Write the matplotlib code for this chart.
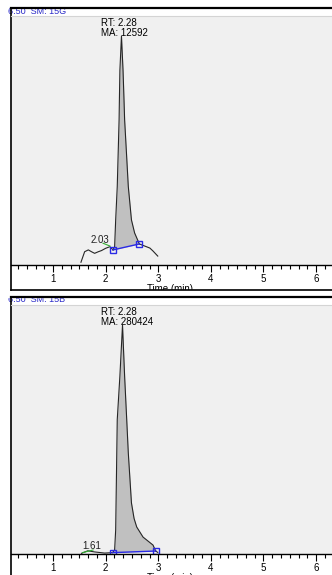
import matplotlib.pyplot as plt
from matplotlib.patches import Rectangle
from matplotlib.lines import Line2D
import numpy as np

plt.rcParams['font.family'] = ['Liberation Sans', 'DejaVu Sans']

W, H = 332, 575
fig = plt.figure(figsize=(W / 100, H / 100), dpi=100)


def fx(px):
    return px / W


def fy(py):
    return 1 - py / H


# ---- data ----
# panel 1 (SM: 15G)
p1_pre_t = [1.53, 1.60, 1.67, 1.73, 1.79, 1.86, 1.92, 2.00, 2.08, 2.14]
p1_pre_i = [1.2, 5.8, 6.6, 5.8, 5.1, 5.8, 6.3, 7.3, 8.0, 6.6]
p1_peak_t = [2.14, 2.17, 2.19, 2.22, 2.255, 2.26, 2.27, 2.30, 2.33, 2.35,
             2.36, 2.395, 2.43, 2.49, 2.55, 2.64]
p1_peak_i = [6.6, 8.0, 19.7, 34.3, 63.5, 71, 85, 100, 85, 71,
             63.5, 49, 34.3, 19.7, 14, 9.2]
p1_post_t = [2.64, 2.74, 2.84, 2.90, 2.99]
p1_post_i = [9.2, 8.3, 7.4, 6.1, 3.9]

# panel 2 (SM: 15B)
p2_pre_t = [1.54, 1.66, 1.79, 1.98, 2.13]
p2_pre_i = [0.3, 1.4, 0.9, 0.4, 0.6]
p2_peak_t = [2.13, 2.17, 2.19, 2.22, 2.27, 2.32, 2.36, 2.40, 2.43, 2.49,
             2.54, 2.59, 2.71, 2.90, 2.95]
p2_peak_i = [0.6, 1.8, 10.5, 58.7, 77.7, 100, 77.7, 58.7, 44.2, 22.3,
             15.5, 11.8, 7.4, 3.9, 1.3]
p2_post_t = [2.95, 2.99]
p2_post_i = [1.3, 0.7]

panels = [
    dict(header='6.50  SM: 15G', rt='RT: 2.28', ma='MA: 12592',
         pre=(p1_pre_t, p1_pre_i), peak=(p1_peak_t, p1_peak_i),
         post=(p1_post_t, p1_post_i),
         lbl='2.03', lbl_xy=(1.90, 11.0), con=([1.95, 2.08], [9.5, 8.3])),
    dict(header='6.50  SM: 15B', rt='RT: 2.28', ma='MA: 280424',
         pre=(p2_pre_t, p2_pre_i), peak=(p2_peak_t, p2_peak_i),
         post=(p2_post_t, p2_post_i),
         lbl='1.61', lbl_xy=(1.73, 3.6), con=([1.56, 1.76], [0.6, 1.75])),
]

x_lo, x_hi = 0.2, 6.5
y_top = 109
line_c = '#262626'
blue = '#2a2ae6'

for k, p in enumerate(panels):
    o = 289 * k
    ax_left, ax_right = 11, 11 + (x_hi - x_lo) * 52.6
    ax_top, ax_bot = o + 15.5, o + 265
    ax = fig.add_axes([fx(ax_left), fy(ax_bot), (ax_right - ax_left) / W,
                       (ax_bot - ax_top) / H])
    ax.set_facecolor('#f0f0f0')
    ax.set_xlim(x_lo, x_hi)
    ax.set_ylim(0, y_top)
    for s in ['top', 'left', 'right']:
        ax.spines[s].set_visible(False)
    ax.spines['bottom'].set_linewidth(1.0)
    ax.set_yticks([])
    ax.set_xticks([1, 2, 3, 4, 5, 6])
    ax.set_xticks(np.arange(2, 39) / 6.0, minor=True)
    ax.tick_params(axis='x', which='major', direction='out', length=5,
                   width=0.8, labelsize=7, pad=1.2)
    ax.tick_params(axis='x', which='minor', direction='out', length=3,
                   width=0.8)

    pt, pi = p['peak']
    base_t = [pt[0], pt[-1]]
    base_i = [pi[0], pi[-1]]
    ax.fill_between(pt, pi, np.interp(pt, base_t, base_i),
                    color='#c0c0c0', lw=0)
    ax.plot(*p['pre'], color=line_c, lw=0.8)
    ax.plot(pt, pi, color=line_c, lw=0.8)
    ax.plot(*p['post'], color=line_c, lw=0.8)
    ax.plot(base_t, base_i, color=blue, lw=1.0, marker='s', ms=4.2,
            mfc='none', mec=blue, mew=1.0)
    ax.plot(*p['con'], color='#30b030', lw=0.8)
    ax.text(p['lbl_xy'][0], p['lbl_xy'][1], p['lbl'], fontsize=7,
            ha='center', va='center', color='#202020')
    ax.text(1.92, 105.8, p['rt'], fontsize=7, ha='left', va='center')
    ax.text(1.92, 101.4, p['ma'], fontsize=7, ha='left', va='center')

    # axis title, lower half hidden by the frame
    fig.text(fx(170), fy(o + 284), 'Time (min)', fontsize=7,
             ha='center', va='top')
    # header text
    fig.text(fx(8.5), fy(o + 11), p['header'], fontsize=6.5, color='#2828c8',
             ha='left', va='center', zorder=2)
    # white cover below the frame bottom
    fig.patches.append(Rectangle((0, fy(o + 297)), 1, (297 - 289.5) / H,
                                 transform=fig.transFigure, color='white',
                                 zorder=5))
    # frame lines
    fig.add_artist(Line2D([fx(10.5), 1.05], [fy(o + 8), fy(o + 8)],
                          color='black', lw=1.6, zorder=6))
    fig.add_artist(Line2D([fx(10.5), 1.05], [fy(o + 289.5), fy(o + 289.5)],
                          color='black', lw=1.2, zorder=6))
    fig.add_artist(Line2D([fx(10.5), fx(10.5)], [fy(o + 8), fy(o + 289.5)],
                          color='black', lw=1.2, zorder=6))
    fig.add_artist(Line2D([fx(11), 1.05], [fy(o + 15.5), fy(o + 15.5)],
                          color='#d4d4d4', lw=0.8, zorder=6))

fig.savefig('out.png', dpi=100)
